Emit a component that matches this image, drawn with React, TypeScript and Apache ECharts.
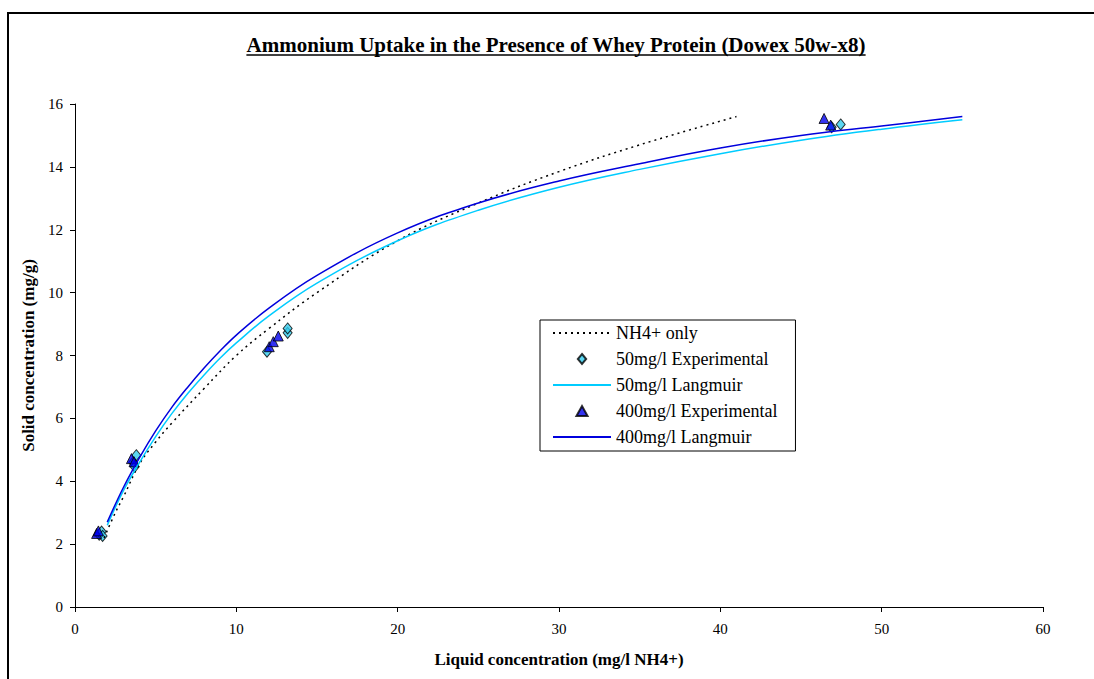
import React, { useEffect, useRef } from "react";
import * as echarts from "echarts";

const titleText = "Ammonium Uptake in the Presence of Whey Protein (Dowex 50w-x8)";
const xName = "Liquid concentration (mg/l NH4+)";
const yName = "Solid concentration (mg/g)";

const nh4OnlyX = [1.8, 2.5, 3, 4, 5, 6, 8, 10, 12, 15, 20, 25, 30, 35, 41];
const nh4OnlyY = [2.2, 3.0, 3.5, 4.55, 5.25, 5.85, 6.95, 8.0, 8.85, 10.0, 11.65, 12.85, 13.85, 14.7, 15.6];

const exp50X = [1.5, 1.65, 1.71, 3.6, 3.7, 3.8, 11.9, 13.18, 13.18, 46.9, 47.46];
const exp50Y = [2.3, 2.4, 2.26, 4.6, 4.46, 4.83, 8.12, 8.72, 8.86, 15.26, 15.35];

const lang50X = [2, 3, 4, 5, 6, 7, 8, 9, 10, 12, 15, 20, 25, 30, 35, 40, 45, 50, 55];
const lang50Y = [2.6, 3.7, 4.6, 5.42, 6.15, 6.8, 7.38, 7.92, 8.4, 9.25, 10.3, 11.65, 12.62, 13.35, 13.92, 14.42, 14.85, 15.2, 15.5];

const exp400X = [1.34, 1.45, 3.5, 3.66, 12.04, 12.29, 12.6, 46.43, 46.84];
const exp400Y = [2.34, 2.42, 4.72, 4.62, 8.28, 8.44, 8.62, 15.54, 15.33];

const lang400X = [2, 3, 4, 5, 6, 7, 8, 9, 10, 12, 15, 20, 25, 30, 35, 40, 45, 50, 55];
const lang400Y = [2.7, 3.8, 4.75, 5.6, 6.35, 7.0, 7.6, 8.15, 8.65, 9.5, 10.55, 11.9, 12.85, 13.55, 14.1, 14.6, 15.0, 15.3, 15.6];

const legendNames = ["NH4+ only", "50mg/l Experimental", "50mg/l Langmuir", "400mg/l Experimental", "400mg/l Langmuir"];

const zip = (xs: number[], ys: number[]) => xs.map((x, i) => [x, ys[i]]);

const FONT = "'Liberation Serif', 'Times New Roman', serif";
const DIAMOND = "path://M5,0L10,6L5,12L0,6Z";
const TRIANGLE = "path://M5,0L10,9L0,9Z";

export default function App() {
  const ref = useRef<HTMLDivElement>(null);
  useEffect(() => {
    if (!ref.current) return;
    const chart = echarts.init(ref.current, undefined, { renderer: "svg" });
    const cv = document.createElement("canvas");
    const ctx = cv.getContext("2d")!;
    ctx.font = "bold 21px 'Liberation Serif'";
    const tw = ctx.measureText(titleText).width;
    const cx = 556;
    chart.setOption({
      animation: false,
      backgroundColor: "#fff",
      grid: { left: 75, right: 51, top: 104, bottom: 72 },
      graphic: [
        {
          type: "rect",
          shape: { x: 8, y: 13, width: 1100, height: 700 },
          style: { fill: "none", stroke: "#000", lineWidth: 2 },
          silent: true,
        },
        {
          type: "text",
          x: cx,
          y: 45,
          style: {
            text: titleText,
            fill: "#000",
            font: "bold 21px 'Liberation Serif'",
            textAlign: "center",
            textVerticalAlign: "middle",
          },
        },
        {
          type: "line",
          shape: { x1: cx - tw / 2, y1: 55, x2: cx + tw / 2, y2: 55 },
          style: { stroke: "#000", lineWidth: 1.5 },
        },
      ],
      legend: {
        orient: "vertical",
        left: 540,
        top: 320,
        itemWidth: 58,
        itemHeight: 10,
        itemGap: 8,
        padding: [4, 18, 5, 12],
        borderColor: "#000",
        borderWidth: 1,
        backgroundColor: "#fff",
        textStyle: { fontFamily: FONT, fontSize: 18, color: "#000" },
        data: [
          { name: legendNames[0], itemStyle: { opacity: 0 } },
          { name: legendNames[1], icon: DIAMOND },
          { name: legendNames[2], itemStyle: { opacity: 0 } },
          { name: legendNames[3], icon: TRIANGLE },
          { name: legendNames[4], itemStyle: { opacity: 0 } },
        ],
      },
      xAxis: {
        type: "value",
        min: 0,
        max: 60,
        interval: 10,
        name: xName,
        nameLocation: "middle",
        nameGap: 44,
        nameTextStyle: { fontFamily: FONT, fontSize: 17, fontWeight: "bold", color: "#000" },
        axisLine: { lineStyle: { color: "#000", width: 1 } },
        axisTick: { show: true, length: 5, lineStyle: { color: "#000" } },
        axisLabel: { fontFamily: FONT, fontSize: 15, color: "#000", margin: 14 },
        splitLine: { show: false },
      },
      yAxis: {
        type: "value",
        min: 0,
        max: 16,
        interval: 2,
        name: yName,
        nameLocation: "middle",
        nameGap: 36,
        nameTextStyle: { fontFamily: FONT, fontSize: 17, fontWeight: "bold", color: "#000" },
        axisLine: { show: true, lineStyle: { color: "#000", width: 1 } },
        axisTick: { show: true, length: 5, lineStyle: { color: "#000" } },
        axisLabel: { fontFamily: FONT, fontSize: 15, color: "#000", margin: 12 },
        splitLine: { show: false },
      },
      series: [
        {
          name: legendNames[0],
          type: "line",
          data: zip(nh4OnlyX, nh4OnlyY),
          smooth: 0.4,
          symbol: "none",
          lineStyle: { color: "#000", width: 1.5, type: [2, 4] },
          itemStyle: { color: "#000" },
        },
        {
          name: legendNames[2],
          type: "line",
          data: zip(lang50X, lang50Y),
          smooth: 0.4,
          symbol: "none",
          lineStyle: { color: "#00CCFF", width: 1.5 },
          itemStyle: { color: "#00CCFF" },
        },
        {
          name: legendNames[4],
          type: "line",
          data: zip(lang400X, lang400Y),
          smooth: 0.4,
          symbol: "none",
          lineStyle: { color: "#0000DD", width: 1.5 },
          itemStyle: { color: "#0000DD" },
        },
        {
          name: legendNames[1],
          type: "scatter",
          data: zip(exp50X, exp50Y),
          symbol: "diamond",
          symbolSize: [9, 11],
          itemStyle: { color: "#33CCEE", borderColor: "#000", borderWidth: 1 },
        },
        {
          name: legendNames[3],
          type: "scatter",
          data: zip(exp400X, exp400Y),
          symbol: "triangle",
          symbolSize: 10,
          itemStyle: { color: "#0000EE", borderColor: "#000", borderWidth: 1 },
        },
      ],
    });
    return () => chart.dispose();
  }, []);
  return (
    <div
      ref={ref}
      style={{ position: "fixed", left: 0, top: 0, width: 1094, height: 679 }}
    />
  );
}
